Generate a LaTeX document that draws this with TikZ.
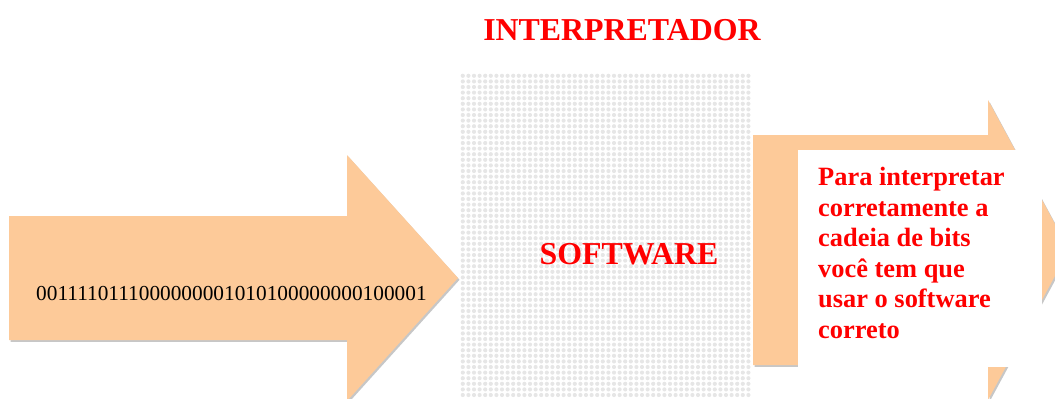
\documentclass[tikz,border=0pt]{standalone}
\usepackage{fontspec}
\setmainfont{Liberation Serif}
\definecolor{peach}{RGB}{253,202,153}
\definecolor{dotgray}{RGB}{230,230,230}
\definecolor{warnred}{RGB}{255,0,0}
\begin{document}
\begin{tikzpicture}[x=1bp,y=-1bp,
  arrowfill/.style={fill=peach},
  arrowshadow/.style={fill=black,opacity=0.22,shift={(1.5,1.8)}},
  heading/.style={font=\bfseries\fontsize{32}{36}\selectfont,text=warnred,inner sep=0pt},
  bitstext/.style={font=\fontsize{21.4}{25}\selectfont,text=black,inner sep=0pt},
  notetext/.style={font=\bfseries\fontsize{26.5}{30.66}\selectfont,text=warnred,align=left,inner sep=0pt}]
\useasboundingbox (0,0) rectangle (1055,398);
\clip (0,0) rectangle (1055,398);

% input arrow with its drop shadow
\fill[arrowshadow] (9,216) -- (347,216) -- (347,155) -- (458,278) -- (347,401) -- (347,340) -- (9,340) -- cycle;
\fill[arrowfill] (9,216) -- (347,216) -- (347,155) -- (458,278) -- (347,401) -- (347,340) -- (9,340) -- cycle;
\node[bitstext,anchor=base west] (bits) at (36,300) {0011110111000000001010100000000100001};

% the interpreter block: dotted grey panel, one filled path per row of dots
\node[anchor=north west,inner sep=0pt,minimum width=289bp,minimum height=324bp] (soft) at (460,73) {};
\foreach \j in {0,...,57} {
  \fill[dotgray] foreach \i in {0,...,51} { (462.8+5.6*\i,75.8+5.6*\j) circle (2.1) };
}
\node[heading,anchor=base] (interp) at (622,40) {INTERPRETADOR};
\node[heading,anchor=base] (softlabel) at (629,264) {SOFTWARE};

% output arrow with its drop shadow
\fill[arrowshadow] (753,135) -- (988,135) -- (988,100) -- (1069,250) -- (988,400) -- (988,365) -- (753,365) -- cycle;
\fill[arrowfill] (753,135) -- (988,135) -- (988,100) -- (1069,250) -- (988,400) -- (988,365) -- (753,365) -- cycle;

% note panel over the output arrow
\node[fill=white,anchor=north west,inner sep=0pt,minimum width=244bp,minimum height=217bp] (notebox) at (798,150) {};
\node[notetext,anchor=north west] (note) at (818,167)
  {Para interpretar\\corretamente a\\cadeia de bits\\você tem que\\usar o software\\correto};
\end{tikzpicture}
\end{document}
